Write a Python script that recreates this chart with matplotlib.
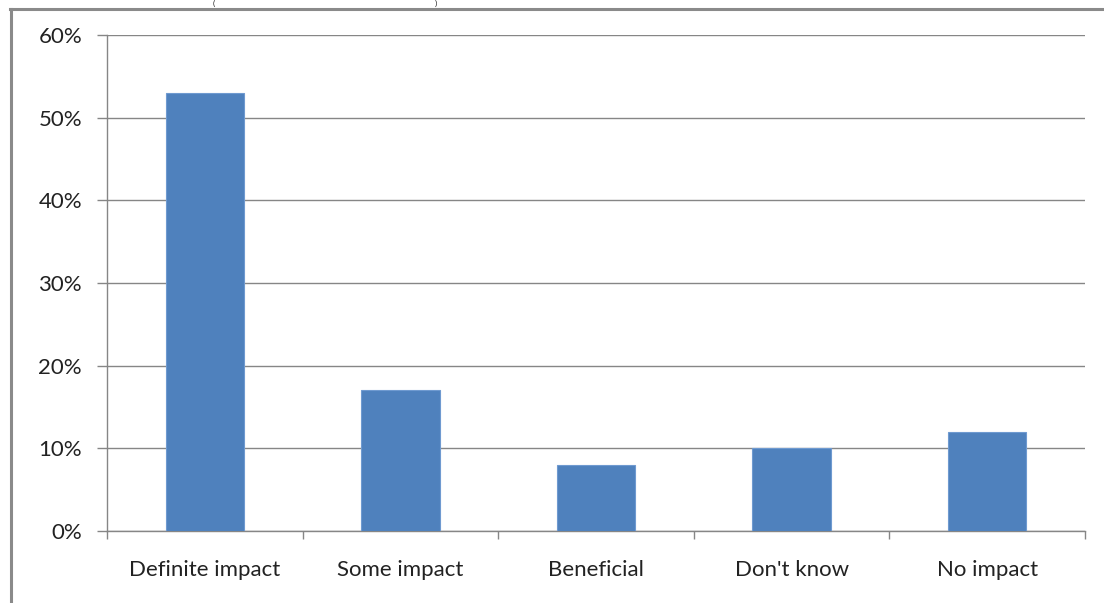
import matplotlib
matplotlib.use("Agg")
import matplotlib.pyplot as plt
from matplotlib.lines import Line2D
from matplotlib.ticker import FuncFormatter, FixedLocator

categories = ["Definite impact", "Some impact", "Beneficial", "Don't know", "No impact"]
values = [53, 17, 8, 10, 12]
y_ticks = [0, 10, 20, 30, 40, 50, 60]

W, H = 1104, 603
fig = plt.figure(figsize=(W / 100, H / 100), dpi=100)
plt.rcParams["font.family"] = ["Lato", "DejaVu Sans"]

ax = fig.add_axes([107 / W, 1 - 531 / H, (1085 - 107) / W, (531 - 35) / H])

grid_c = "#868686"
text_c = "#222222"
x = list(range(len(categories)))
ax.bar(x, values, width=0.4, color="#4F81BD", edgecolor="#6F9AD0", linewidth=0.8, zorder=3)

ax.set_xlim(-0.5, len(categories) - 0.5)
ax.set_ylim(0, 60)
ax.set_yticks(y_ticks)
ax.yaxis.set_major_formatter(FuncFormatter(lambda v, p: f"{int(v)}%"))
ax.yaxis.grid(True, color=grid_c, linewidth=1.0, zorder=0)

# category labels centred under bars, tick marks on category boundaries
ax.set_xticks(x)
ax.set_xticklabels(categories)
ax.tick_params(axis="x", which="major", length=0, pad=21, labelsize=16, colors=text_c)
ax.xaxis.set_minor_locator(FixedLocator([i - 0.5 for i in range(len(categories) + 1)]))
ax.tick_params(axis="x", which="minor", length=6, width=1, color=grid_c, direction="out")
ax.tick_params(axis="y", length=7, width=1, color=grid_c, direction="out", pad=11,
               labelsize=16, labelcolor=text_c)

for s in ["top", "right"]:
    ax.spines[s].set_visible(False)
for s in ["left", "bottom"]:
    ax.spines[s].set_color(grid_c)
    ax.spines[s].set_linewidth(1.0)

# chart frame
frame_c = "#8A8A8A"
fig.add_artist(Line2D([10 / W, 1.0], [1 - 9 / H, 1 - 9 / H], color=frame_c, linewidth=2.2,
                      transform=fig.transFigure))
fig.add_artist(Line2D([11 / W, 11 / W], [0, 1 - 9 / H], color=frame_c, linewidth=2.2,
                      transform=fig.transFigure))

# parentheses of the heading line above the frame
fig.text(213 / W, 1.0, "(", fontsize=6, color=text_c, ha="left", va="top")
fig.text(437 / W, 1.0, ")", fontsize=6, color=text_c, ha="right", va="top")

fig.savefig("out.png", dpi=100, facecolor="white")
